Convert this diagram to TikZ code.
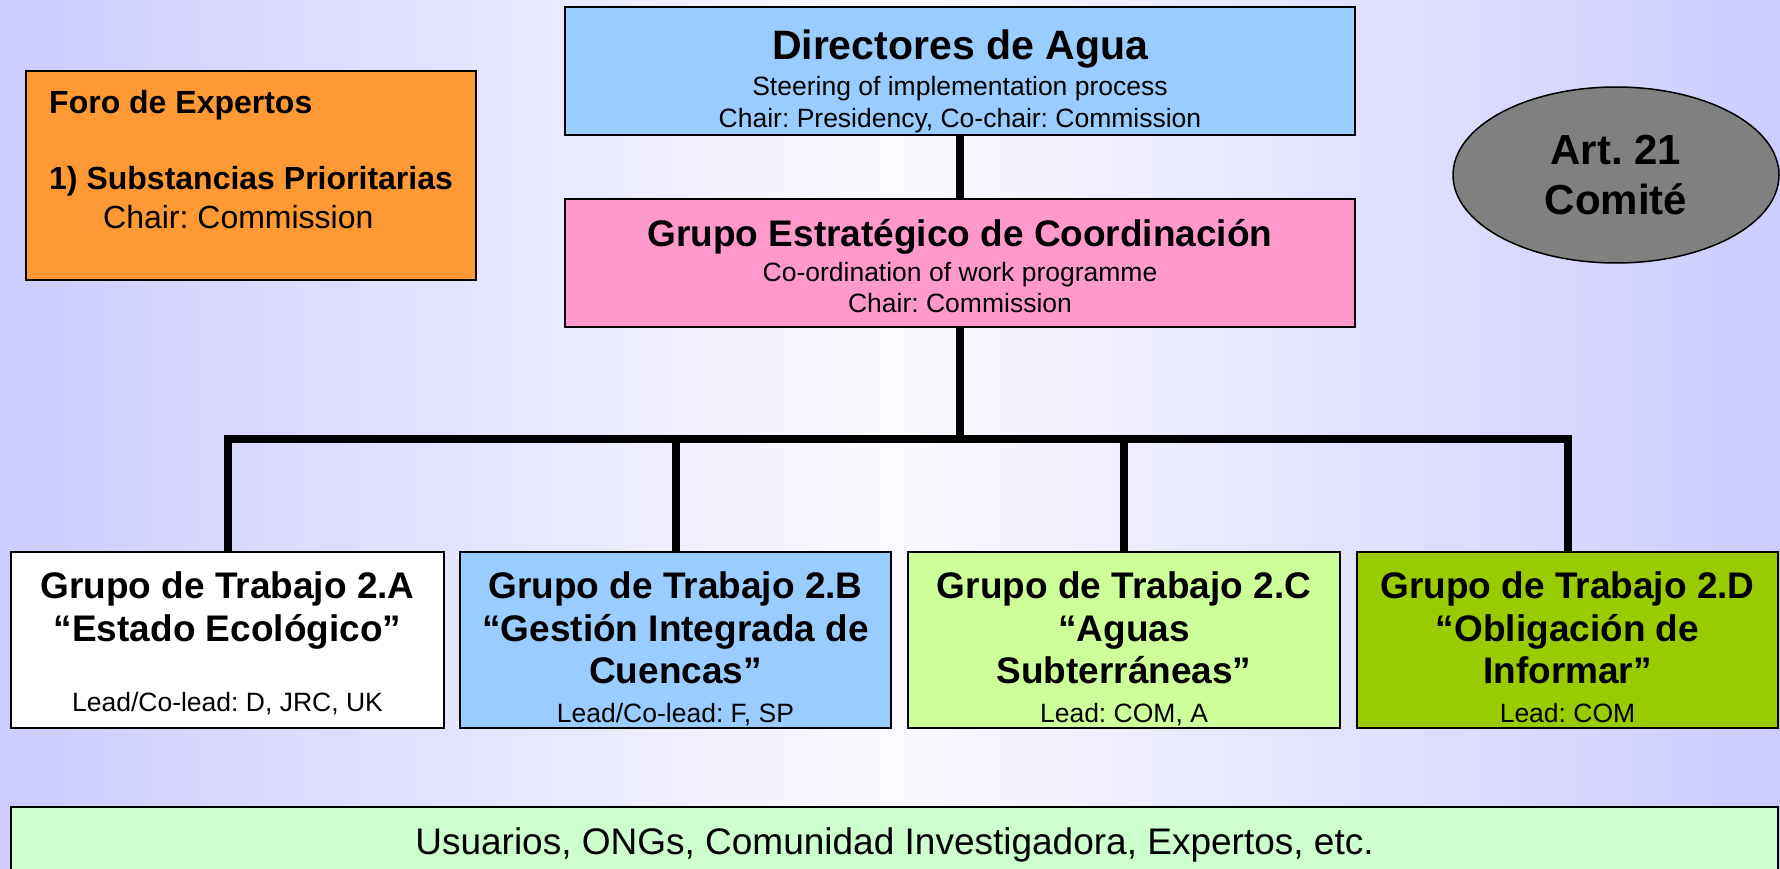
\documentclass[tikz,border=0pt]{standalone}
\usepackage{fontspec}
\setmainfont{Liberation Sans}
\usetikzlibrary{shapes.geometric}
\frenchspacing

\definecolor{bgedge}{HTML}{CCCCFF}
\definecolor{bgmid}{HTML}{FAFAFF}
\definecolor{foroorange}{HTML}{FF9933}
\definecolor{dirblue}{HTML}{99CCFF}
\definecolor{estpink}{HTML}{FF99CC}
\definecolor{ovalgray}{HTML}{808080}
\definecolor{gclime}{HTML}{CCFF99}
\definecolor{gdgreen}{HTML}{99CC00}
\definecolor{barmint}{HTML}{CCFFCC}

\newcommand\dirtitle{\fontsize{41}{48}\selectfont\bfseries}
\newcommand\grptitle{\fontsize{37}{43}\selectfont\bfseries}
\newcommand\forotext{\fontsize{32}{38}\selectfont}
\newcommand\subtext{\fontsize{26.5}{31}\selectfont}
\newcommand\bartext{\fontsize{37}{43}\selectfont}
\newcommand\ovaltext{\fontsize{42}{50}\selectfont\bfseries}

\begin{document}
\begin{tikzpicture}[x=1pt, y=-1pt,
  panel/.style={draw=black, line width=1.5pt, inner sep=0pt},
  lbl/.style={inner sep=0pt, anchor=base},
  wire/.style={line width=8pt}]
\useasboundingbox (0,0) rectangle (1780,869);
\shade[left color=bgedge, right color=bgedge, middle color=bgmid] (0,0) rectangle (1780,869);
% top part
\node[panel, fill=foroorange, minimum width=450pt, minimum height=209pt] (foro) at (251,175.5) {};
\node[lbl, anchor=base west, font=\forotext\bfseries] (foroT) at (49,114) {Foro de Expertos};
\node[lbl, anchor=base west, font=\forotext\bfseries] (foroS) at (49,190) {1) Substancias Prioritarias};
\node[lbl, anchor=base west, font=\forotext] (foroC) at (103,229) {Chair: Commission};
\node[panel, fill=dirblue, minimum width=790pt, minimum height=128pt] (dir) at (960,71) {};
\node[lbl, font=\dirtitle] (dirT) at (960,60) {Directores de Agua};
\node[lbl, font=\subtext] (dirS) at (960,96) {Steering of implementation process};
\node[lbl, font=\subtext] (dirC) at (960,128) {Chair: Presidency, Co-chair: Commission};
\node[panel, fill=estpink, minimum width=790pt, minimum height=128pt] (est) at (960,263) {};
\node[lbl, font=\grptitle] (estT) at (960,246) {Grupo Estratégico de Coordinación};
\node[lbl, font=\subtext] (estS) at (960,281) {Co-ordination of work programme};
\node[lbl, font=\subtext] (estC) at (960,312) {Chair: Commission};
\node[panel, ellipse, fill=ovalgray, minimum width=326pt, minimum height=176pt,
  align=center, font=\ovaltext] (art) at (1616,175) {Art. 21\\Comité};
% working groups
\node[panel, fill=white, minimum width=433pt, minimum height=176pt] (ga) at (227.5,640) {};
\node[lbl, font=\grptitle] (gaT) at (227.5,598) {Grupo de Trabajo 2.A};
\node[lbl, font=\grptitle] (gaN) at (227.5,641) {“Estado Ecológico”};
\node[lbl, font=\subtext] (gaL) at (227.5,711) {Lead/Co-lead: D, JRC, UK};
\node[panel, fill=dirblue, minimum width=431pt, minimum height=176pt] (gb) at (675.5,640) {};
\node[lbl, font=\grptitle] (gbT) at (675.5,598) {Grupo de Trabajo 2.B};
\node[lbl, font=\grptitle] (gbN) at (675.5,641) {“Gestión Integrada de};
\node[lbl, font=\grptitle] (gbM) at (675.5,683) {Cuencas”};
\node[lbl, font=\subtext] (gbL) at (675.5,722) {Lead/Co-lead: F, SP};
\node[panel, fill=gclime, minimum width=432pt, minimum height=176pt] (gc) at (1124,640) {};
\node[lbl, font=\grptitle] (gcT) at (1124,598) {Grupo de Trabajo 2.C};
\node[lbl, font=\grptitle] (gcN) at (1124,641) {“Aguas};
\node[lbl, font=\grptitle] (gcM) at (1124,683) {Subterráneas”};
\node[lbl, font=\subtext] (gcL) at (1124,722) {Lead: COM, A};
\node[panel, fill=gdgreen, minimum width=421pt, minimum height=176pt] (gd) at (1567.5,640) {};
\node[lbl, font=\grptitle] (gdT) at (1567.5,598) {Grupo de Trabajo 2.D};
\node[lbl, font=\grptitle] (gdN) at (1567.5,641) {“Obligación de};
\node[lbl, font=\grptitle] (gdM) at (1567.5,683) {Informar”};
\node[lbl, font=\subtext] (gdL) at (1567.5,722) {Lead: COM};
% stakeholders
\node[panel, fill=barmint, minimum width=1767pt, minimum height=76pt, font=\bartext] (users) at (894.5,845) {Usuarios, ONGs, Comunidad Investigadora, Expertos, etc.};
% connectors
\coordinate (bus) at (960,439);
\draw[wire] (dir.south) -- (est.north);
\draw[wire] (est.south) -- (bus);
\draw[wire] (ga.north) |- (bus) -| (gd.north);
\draw[wire] (gb.north) -- (gb.north |- bus);
\draw[wire] (gc.north) -- (gc.north |- bus);
\end{tikzpicture}
\end{document}
